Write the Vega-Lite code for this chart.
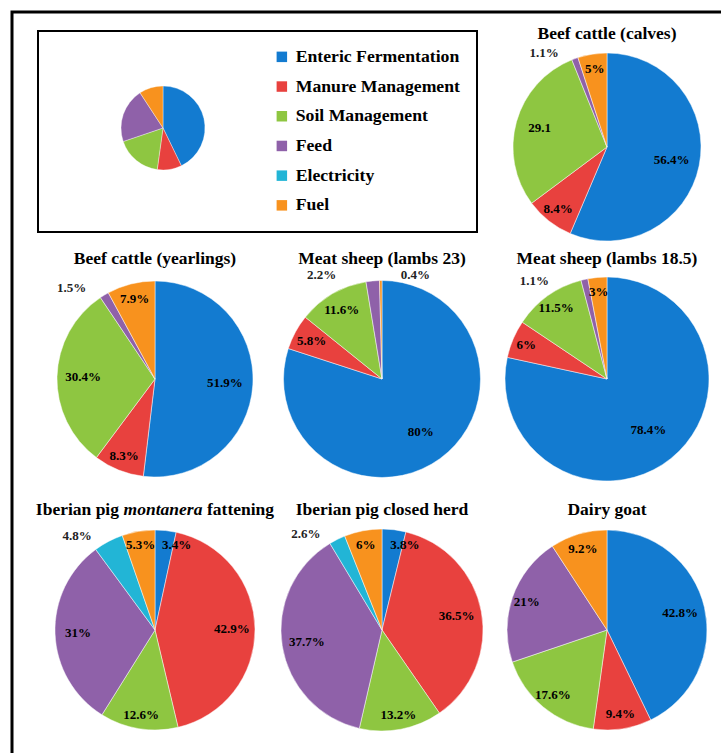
{
  "$schema": "https://vega.github.io/schema/vega-lite/v6.json",
  "width": 721,
  "height": 753,
  "autosize": {"type": "fit", "contains": "padding"},
  "padding": {"left": 12, "top": 12, "right": -4, "bottom": -4},
  "background": "white",
  "config": {
    "view": {"stroke": "black", "strokeWidth": 3},
    "legend": {"strokeWidth": 2}
  },
  "datasets": {
    "slices": [
      {"pie": "calves", "pid": 1, "gx": 3, "gy": 1, "cat": "Enteric Fermentation", "k": 1, "value": 56.4, "label": "56.4%"},
      {"pie": "calves", "pid": 1, "gx": 3, "gy": 1, "cat": "Manure Management", "k": 2, "value": 8.4, "label": "8.4%"},
      {"pie": "calves", "pid": 1, "gx": 3, "gy": 1, "cat": "Soil Management", "k": 3, "value": 29.1, "label": "29.1"},
      {"pie": "calves", "pid": 1, "gx": 3, "gy": 1, "cat": "Feed", "k": 4, "value": 1.1, "label": "1.1%"},
      {"pie": "calves", "pid": 1, "gx": 3, "gy": 1, "cat": "Fuel", "k": 6, "value": 5, "label": "5%"},
      {"pie": "yearlings", "pid": 2, "gx": 1, "gy": 2, "cat": "Enteric Fermentation", "k": 1, "value": 51.9, "label": "51.9%"},
      {"pie": "yearlings", "pid": 2, "gx": 1, "gy": 2, "cat": "Manure Management", "k": 2, "value": 8.3, "label": "8.3%"},
      {"pie": "yearlings", "pid": 2, "gx": 1, "gy": 2, "cat": "Soil Management", "k": 3, "value": 30.4, "label": "30.4%"},
      {"pie": "yearlings", "pid": 2, "gx": 1, "gy": 2, "cat": "Feed", "k": 4, "value": 1.5, "label": "1.5%"},
      {"pie": "yearlings", "pid": 2, "gx": 1, "gy": 2, "cat": "Fuel", "k": 6, "value": 7.9, "label": "7.9%"},
      {"pie": "lambs23", "pid": 3, "gx": 2, "gy": 2, "cat": "Enteric Fermentation", "k": 1, "value": 80, "label": "80%"},
      {"pie": "lambs23", "pid": 3, "gx": 2, "gy": 2, "cat": "Manure Management", "k": 2, "value": 5.8, "label": "5.8%"},
      {"pie": "lambs23", "pid": 3, "gx": 2, "gy": 2, "cat": "Soil Management", "k": 3, "value": 11.6, "label": "11.6%"},
      {"pie": "lambs23", "pid": 3, "gx": 2, "gy": 2, "cat": "Feed", "k": 4, "value": 2.2, "label": "2.2%"},
      {"pie": "lambs23", "pid": 3, "gx": 2, "gy": 2, "cat": "Fuel", "k": 6, "value": 0.4, "label": "0.4%"},
      {"pie": "lambs185", "pid": 4, "gx": 3, "gy": 2, "cat": "Enteric Fermentation", "k": 1, "value": 78.4, "label": "78.4%"},
      {"pie": "lambs185", "pid": 4, "gx": 3, "gy": 2, "cat": "Manure Management", "k": 2, "value": 6, "label": "6%"},
      {"pie": "lambs185", "pid": 4, "gx": 3, "gy": 2, "cat": "Soil Management", "k": 3, "value": 11.5, "label": "11.5%"},
      {"pie": "lambs185", "pid": 4, "gx": 3, "gy": 2, "cat": "Feed", "k": 4, "value": 1.1, "label": "1.1%"},
      {"pie": "lambs185", "pid": 4, "gx": 3, "gy": 2, "cat": "Fuel", "k": 6, "value": 3, "label": "3%"},
      {"pie": "montanera", "pid": 5, "gx": 1, "gy": 3, "cat": "Enteric Fermentation", "k": 1, "value": 3.4, "label": "3.4%"},
      {"pie": "montanera", "pid": 5, "gx": 1, "gy": 3, "cat": "Manure Management", "k": 2, "value": 42.9, "label": "42.9%"},
      {"pie": "montanera", "pid": 5, "gx": 1, "gy": 3, "cat": "Soil Management", "k": 3, "value": 12.6, "label": "12.6%"},
      {"pie": "montanera", "pid": 5, "gx": 1, "gy": 3, "cat": "Feed", "k": 4, "value": 31, "label": "31%"},
      {"pie": "montanera", "pid": 5, "gx": 1, "gy": 3, "cat": "Electricity", "k": 5, "value": 4.8, "label": "4.8%"},
      {"pie": "montanera", "pid": 5, "gx": 1, "gy": 3, "cat": "Fuel", "k": 6, "value": 5.3, "label": "5.3%"},
      {"pie": "closed", "pid": 6, "gx": 2, "gy": 3, "cat": "Enteric Fermentation", "k": 1, "value": 3.8, "label": "3.8%"},
      {"pie": "closed", "pid": 6, "gx": 2, "gy": 3, "cat": "Manure Management", "k": 2, "value": 36.5, "label": "36.5%"},
      {"pie": "closed", "pid": 6, "gx": 2, "gy": 3, "cat": "Soil Management", "k": 3, "value": 13.2, "label": "13.2%"},
      {"pie": "closed", "pid": 6, "gx": 2, "gy": 3, "cat": "Feed", "k": 4, "value": 37.7, "label": "37.7%"},
      {"pie": "closed", "pid": 6, "gx": 2, "gy": 3, "cat": "Electricity", "k": 5, "value": 2.6, "label": "2.6%"},
      {"pie": "closed", "pid": 6, "gx": 2, "gy": 3, "cat": "Fuel", "k": 6, "value": 6, "label": "6%"},
      {"pie": "goat", "pid": 7, "gx": 3, "gy": 3, "cat": "Enteric Fermentation", "k": 1, "value": 42.8, "label": "42.8%"},
      {"pie": "goat", "pid": 7, "gx": 3, "gy": 3, "cat": "Manure Management", "k": 2, "value": 9.4, "label": "9.4%"},
      {"pie": "goat", "pid": 7, "gx": 3, "gy": 3, "cat": "Soil Management", "k": 3, "value": 17.6, "label": "17.6%"},
      {"pie": "goat", "pid": 7, "gx": 3, "gy": 3, "cat": "Feed", "k": 4, "value": 21, "label": "21%"},
      {"pie": "goat", "pid": 7, "gx": 3, "gy": 3, "cat": "Fuel", "k": 6, "value": 9.2, "label": "9.2%"},
      {"pie": "legend", "pid": 0, "gx": 0, "gy": 0, "cat": "Enteric Fermentation", "k": 1, "value": 42.8, "label": "42.8%"},
      {"pie": "legend", "pid": 0, "gx": 0, "gy": 0, "cat": "Manure Management", "k": 2, "value": 9.4, "label": "9.4%"},
      {"pie": "legend", "pid": 0, "gx": 0, "gy": 0, "cat": "Soil Management", "k": 3, "value": 17.6, "label": "17.6%"},
      {"pie": "legend", "pid": 0, "gx": 0, "gy": 0, "cat": "Feed", "k": 4, "value": 21, "label": "21%"},
      {"pie": "legend", "pid": 0, "gx": 0, "gy": 0, "cat": "Fuel", "k": 6, "value": 9.2, "label": "9.2%"}
    ],
    "titles": [
      {"title": "Beef cattle (calves)", "gx": 3, "gy": 1, "seg": "top"},
      {"title": "Beef cattle (yearlings)", "gx": 1, "gy": 2, "seg": "main"},
      {"title": "Meat sheep (lambs 23)", "gx": 2, "gy": 2, "seg": "main"},
      {"title": "Meat sheep (lambs 18.5)", "gx": 3, "gy": 2, "seg": "main"},
      {"title": "Iberian pig", "gx": 1, "gy": 3, "seg": "a"},
      {"title": "montanera", "gx": 1, "gy": 3, "seg": "b"},
      {"title": "fattening", "gx": 1, "gy": 3, "seg": "c"},
      {"title": "Iberian pig closed herd", "gx": 2, "gy": 3, "seg": "main"},
      {"title": "Dairy goat", "gx": 3, "gy": 3, "seg": "main"}
    ]
  },
  "resolve": {"scale": {"radius": "independent"}},
  "layer": [
    {
      "data": {"name": "slices"},
      "transform": [{"filter": "datum.pie != 'legend'"}],
      "mark": {"type": "arc", "stroke": "#ffffff", "strokeWidth": 0.8, "strokeOpacity": 0.6},
      "encoding": {
        "x": {"field": "gx", "type": "quantitative", "scale": {"domain": [0, 1, 2, 3], "range": [151, 143, 370, 595], "zero": false, "nice": false}, "axis": null},
        "y": {"field": "gy", "type": "quantitative", "scale": {"domain": [0, 1, 2, 3], "range": [116, 135, 367, 618], "zero": false, "nice": false}, "axis": null},
        "theta": {"field": "value", "type": "quantitative", "stack": "normalize"},
        "radius": {"field": "pid", "type": "quantitative", "scale": {"type": "linear", "zero": false, "nice": false, "domain": [1, 2, 3, 4, 5, 6, 7], "range": [94, 98, 98.5, 102, 100, 101, 100]}, "legend": null},
        "radius2": {"value": 0},
        "order": {"field": "k", "type": "quantitative"},
        "color": {
          "field": "cat",
          "type": "nominal",
          "scale": {
            "domain": ["Enteric Fermentation", "Manure Management", "Soil Management", "Feed", "Electricity", "Fuel"],
            "range": ["#137bd0", "#e8413e", "#8ec641", "#8f61a9", "#22b5d6", "#f8921e"]
          },
          "legend": {
            "orient": "none",
            "legendX": 26,
            "legendY": 19,
            "title": " ",
            "titleOrient": "left",
            "titlePadding": 218,
            "padding": 17,
            "strokeColor": "black",
            "symbolType": "square",
            "symbolSize": 110,
            "symbolStrokeWidth": 0,
            "labelFont": "Liberation Serif",
            "labelFontSize": 17.7,
            "labelFontWeight": "bold",
            "labelColor": "black",
            "labelOffset": 5,
            "labelLimit": 300,
            "rowPadding": 10.7
          }
        }
      }
    },
    {
      "data": {"name": "slices"},
      "transform": [{"filter": "datum.pie == 'legend'"}],
      "mark": {"type": "arc", "radius": 42, "stroke": "#ffffff", "strokeWidth": 0.6, "strokeOpacity": 0.6},
      "encoding": {
        "x": {"field": "gx", "type": "quantitative", "axis": null},
        "y": {"field": "gy", "type": "quantitative", "axis": null},
        "theta": {"field": "value", "type": "quantitative", "stack": "normalize"},
        "order": {"field": "k", "type": "quantitative"},
        "color": {"field": "cat", "type": "nominal"}
      }
    },
    {
      "data": {"name": "slices"},
      "transform": [{"filter": "datum.pie != 'legend'"}],
      "mark": {"type": "text", "font": "Liberation Serif", "fontWeight": "bold", "fontSize": 13, "color": "black", "baseline": "middle", "align": "center"},
      "encoding": {
        "x": {"field": "gx", "type": "quantitative", "axis": null},
        "y": {"field": "gy", "type": "quantitative", "axis": null},
        "theta": {"field": "value", "type": "quantitative", "stack": "normalize"},
        "radius": {"field": "pid", "type": "quantitative", "scale": {"type": "linear", "zero": false, "nice": false, "domain": [1, 2, 3, 4, 5, 6, 7], "range": [66, 70, 66, 66, 70, 70.7, 70]}, "legend": null},
        "order": {"field": "k", "type": "quantitative"},
        "text": {"condition": {"test": "datum.value < 50", "value": ""}, "field": "label", "type": "nominal"}
      }
    },
    {
      "data": {"name": "slices"},
      "transform": [{"filter": "datum.pie != 'legend'"}],
      "mark": {"type": "text", "font": "Liberation Serif", "fontWeight": "bold", "fontSize": 13, "color": "black", "baseline": "middle", "align": "center"},
      "encoding": {
        "x": {"field": "gx", "type": "quantitative", "axis": null},
        "y": {"field": "gy", "type": "quantitative", "axis": null},
        "theta": {"field": "value", "type": "quantitative", "stack": "normalize"},
        "radius": {"field": "pid", "type": "quantitative", "scale": {"type": "linear", "zero": false, "nice": false, "domain": [1, 2, 3, 4, 5, 6, 7], "range": [70, 72, 75, 77.5, 77, 76, 75]}, "legend": null},
        "order": {"field": "k", "type": "quantitative"},
        "text": {"condition": {"test": "datum.value < 25 || datum.value >= 50", "value": ""}, "field": "label", "type": "nominal"}
      }
    },
    {
      "data": {"name": "slices"},
      "transform": [{"filter": "datum.pie != 'legend'"}],
      "mark": {"type": "text", "font": "Liberation Serif", "fontWeight": "bold", "fontSize": 13, "color": "black", "baseline": "middle", "align": "center"},
      "encoding": {
        "x": {"field": "gx", "type": "quantitative", "axis": null},
        "y": {"field": "gy", "type": "quantitative", "axis": null},
        "theta": {"field": "value", "type": "quantitative", "stack": "normalize"},
        "radius": {"field": "pid", "type": "quantitative", "scale": {"type": "linear", "zero": false, "nice": false, "domain": [1, 2, 3, 4, 5, 6, 7], "range": [79, 83, 80, 87.7, 86, 86.9, 85]}, "legend": null},
        "order": {"field": "k", "type": "quantitative"},
        "text": {"condition": {"test": "datum.value >= 25 || datum.value < 2.7 || datum.cat == 'Electricity' || (datum.cat == 'Enteric Fermentation' && datum.value < 5)", "value": ""}, "field": "label", "type": "nominal"}
      }
    },
    {
      "data": {"name": "slices"},
      "transform": [{"filter": "datum.pie != 'legend'"}],
      "mark": {"type": "text", "font": "Liberation Serif", "fontWeight": "bold", "fontSize": 13, "color": "black", "baseline": "middle", "align": "left", "dx": -2},
      "encoding": {
        "x": {"field": "gx", "type": "quantitative", "axis": null},
        "y": {"field": "gy", "type": "quantitative", "axis": null},
        "theta": {"field": "value", "type": "quantitative", "stack": "normalize"},
        "radius": {"field": "pid", "type": "quantitative", "scale": {"type": "linear", "zero": false, "nice": false, "domain": [1, 2, 3, 4, 5, 6, 7], "range": [80, 84, 84, 88, 85, 86, 86]}, "legend": null},
        "order": {"field": "k", "type": "quantitative"},
        "text": {"condition": {"test": "!(datum.cat == 'Enteric Fermentation' && datum.value < 5)", "value": ""}, "field": "label", "type": "nominal"}
      }
    },
    {
      "data": {"name": "slices"},
      "transform": [{"filter": "datum.pie != 'legend'"}],
      "mark": {"type": "text", "font": "Liberation Serif", "fontWeight": "bold", "fontSize": 13, "color": "#222222", "baseline": "middle", "align": "right", "dx": -14},
      "encoding": {
        "x": {"field": "gx", "type": "quantitative", "axis": null},
        "y": {"field": "gy", "type": "quantitative", "axis": null},
        "theta": {"field": "value", "type": "quantitative", "stack": "normalize"},
        "radius": {"field": "pid", "type": "quantitative", "scale": {"type": "linear", "zero": false, "nice": false, "domain": [1, 2, 3, 4, 5, 6, 7], "range": [100, 106, 104, 100, 106, 107, 106]}, "legend": null},
        "order": {"field": "k", "type": "quantitative"},
        "text": {"condition": {"test": "!(((datum.value < 2.7 && datum.cat != 'Fuel') || datum.cat == 'Electricity') && datum.pie != 'lambs23' && datum.pie != 'lambs185')", "value": ""}, "field": "label", "type": "nominal"}
      }
    },
    {
      "data": {"name": "slices"},
      "transform": [{"filter": "datum.pie != 'legend'"}],
      "mark": {"type": "text", "font": "Liberation Serif", "fontWeight": "bold", "fontSize": 13, "color": "#222222", "baseline": "middle", "align": "right", "dx": -36},
      "encoding": {
        "x": {"field": "gx", "type": "quantitative", "axis": null},
        "y": {"field": "gy", "type": "quantitative", "axis": null},
        "theta": {"field": "value", "type": "quantitative", "stack": "normalize"},
        "radius": {"field": "pid", "type": "quantitative", "scale": {"type": "linear", "zero": false, "nice": false, "domain": [1, 2, 3, 4, 5, 6, 7], "range": [100, 106, 104, 100, 106, 107, 106]}, "legend": null},
        "order": {"field": "k", "type": "quantitative"},
        "text": {"condition": {"test": "!(datum.value < 2.7 && datum.cat == 'Feed' && (datum.pie == 'lambs23' || datum.pie == 'lambs185'))", "value": ""}, "field": "label", "type": "nominal"}
      }
    },
    {
      "data": {"name": "slices"},
      "transform": [{"filter": "datum.pie != 'legend'"}],
      "mark": {"type": "text", "font": "Liberation Serif", "fontWeight": "bold", "fontSize": 13, "color": "#222222", "baseline": "middle", "align": "left", "dx": 20},
      "encoding": {
        "x": {"field": "gx", "type": "quantitative", "axis": null},
        "y": {"field": "gy", "type": "quantitative", "axis": null},
        "theta": {"field": "value", "type": "quantitative", "stack": "normalize"},
        "radius": {"field": "pid", "type": "quantitative", "scale": {"type": "linear", "zero": false, "nice": false, "domain": [1, 2, 3, 4, 5, 6, 7], "range": [100, 104, 104, 108, 106, 107, 106]}, "legend": null},
        "order": {"field": "k", "type": "quantitative"},
        "text": {"condition": {"test": "!(datum.value < 2.7 && datum.cat == 'Fuel')", "value": ""}, "field": "label", "type": "nominal"}
      }
    },
    {
      "data": {"name": "titles"},
      "transform": [{"filter": "datum.seg == 'top'"}],
      "mark": {"type": "text", "font": "Liberation Serif", "fontWeight": "bold", "fontSize": 17.5, "color": "black", "baseline": "middle", "align": "center", "dy": -113},
      "encoding": {
        "x": {"field": "gx", "type": "quantitative", "axis": null},
        "y": {"field": "gy", "type": "quantitative", "axis": null},
        "text": {"field": "title", "type": "nominal"}
      }
    },
    {
      "data": {"name": "titles"},
      "transform": [{"filter": "datum.seg == 'main'"}],
      "mark": {"type": "text", "font": "Liberation Serif", "fontWeight": "bold", "fontSize": 17.5, "color": "black", "baseline": "middle", "align": "center", "dy": -120},
      "encoding": {
        "x": {"field": "gx", "type": "quantitative", "axis": null},
        "y": {"field": "gy", "type": "quantitative", "axis": null},
        "text": {"field": "title", "type": "nominal"}
      }
    },
    {
      "data": {"name": "titles"},
      "transform": [{"filter": "datum.seg == 'a'"}],
      "mark": {"type": "text", "font": "Liberation Serif", "fontWeight": "bold", "fontSize": 17.5, "color": "black", "baseline": "middle", "align": "right", "dx": -36, "dy": -120},
      "encoding": {
        "x": {"field": "gx", "type": "quantitative", "axis": null},
        "y": {"field": "gy", "type": "quantitative", "axis": null},
        "text": {"field": "title", "type": "nominal"}
      }
    },
    {
      "data": {"name": "titles"},
      "transform": [{"filter": "datum.seg == 'b'"}],
      "mark": {"type": "text", "font": "Liberation Serif", "fontWeight": "bold", "fontStyle": "italic", "fontSize": 17.5, "color": "black", "baseline": "middle", "align": "center", "dx": 8, "dy": -120},
      "encoding": {
        "x": {"field": "gx", "type": "quantitative", "axis": null},
        "y": {"field": "gy", "type": "quantitative", "axis": null},
        "text": {"field": "title", "type": "nominal"}
      }
    },
    {
      "data": {"name": "titles"},
      "transform": [{"filter": "datum.seg == 'c'"}],
      "mark": {"type": "text", "font": "Liberation Serif", "fontWeight": "bold", "fontSize": 17.5, "color": "black", "baseline": "middle", "align": "left", "dx": 52, "dy": -120},
      "encoding": {
        "x": {"field": "gx", "type": "quantitative", "axis": null},
        "y": {"field": "gy", "type": "quantitative", "axis": null},
        "text": {"field": "title", "type": "nominal"}
      }
    }
  ]
}
